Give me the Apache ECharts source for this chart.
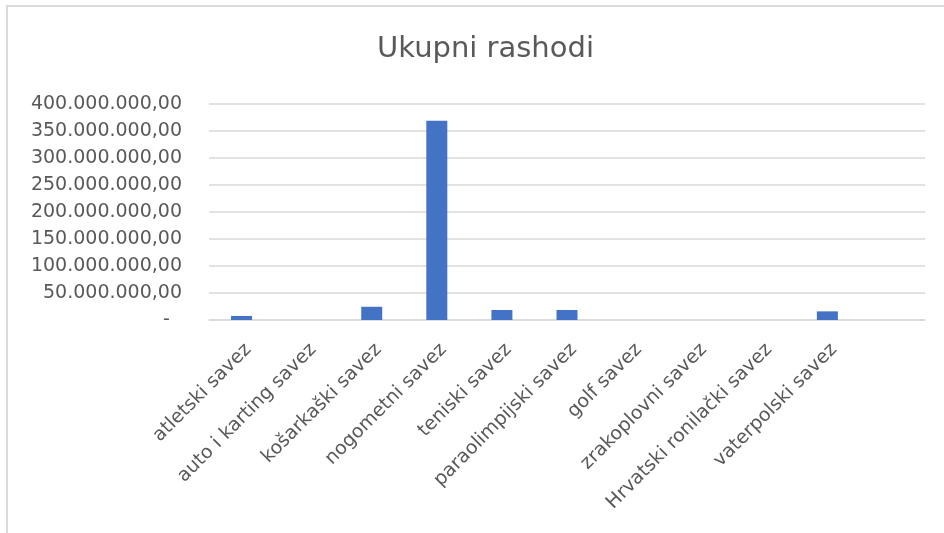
<!DOCTYPE html>
<html>
<head>
<meta charset="utf-8">
<script src="https://cdn.jsdelivr.net/npm/echarts@6/dist/echarts.min.js"></script>
<style>
  html, body { margin: 0; padding: 0; background: #fff; }
  #chart { width: 944px; height: 533px; }
</style>
</head>
<body>
<div id="chart"></div>
<script>
// podaci
var categories = ['atletski savez', 'auto i karting savez', 'košarkaški savez', 'nogometni savez',
  'teniski savez', 'paraolimpijski savez', 'golf savez', 'zrakoplovni savez',
  'Hrvatski ronilački savez', 'vaterpolski savez', ''];
var rashodi = [7500000, 0, 24500000, 369000000, 18500000, 18500000, 0, 0, 0, 16000000, null];
var yTicks = {min: 0, max: 400000000, interval: 50000000};

var textColor = '#595959';
var font = 'DejaVu Sans';

function formatNum(v) {
  if (v === 0) { return '-  '; }
  return Math.round(v).toString().replace(/\B(?=(\d{3})+(?!\d))/g, '.') + ',00';
}

var myChart = echarts.init(document.getElementById('chart'));

var option = {
  backgroundColor: '#fff',
  animation: false,
  title: {
    text: 'Ukupni rashodi',
    left: 372, top: 30,
    textStyle: {fontFamily: font, fontSize: 29, fontWeight: 'normal', color: textColor}
  },
  grid: {left: 209, right: 19, top: 104, bottom: 213, containLabel: false},
  xAxis: {
    type: 'category',
    data: categories,
    axisLine: {lineStyle: {color: '#d9d9d9', width: 1.5}},
    axisTick: {show: false},
    axisLabel: {
      interval: 0, rotate: 45, margin: 20, verticalAlign: 'top',
      fontFamily: font, fontSize: 19, color: textColor
    }
  },
  yAxis: {
    type: 'value',
    min: yTicks.min, max: yTicks.max, interval: yTicks.interval,
    axisLine: {show: false},
    axisTick: {show: false},
    splitLine: {lineStyle: {color: '#d9d9d9', width: 1.5}},
    axisLabel: {
      margin: 27, formatter: formatNum,
      fontFamily: font, fontSize: 19, color: textColor
    }
  },
  series: [{
    name: 'Ukupni rashodi',
    type: 'bar',
    data: rashodi,
    barWidth: 21,
    itemStyle: {color: '#4472C4'}
  }],
  graphic: [{
    type: 'rect',
    shape: {x: 7, y: 6, width: 1000, height: 600},
    style: {fill: 'none', stroke: '#d9d9d9', lineWidth: 2},
    silent: true
  }]
};

myChart.setOption(option);
</script>
</body>
</html>
